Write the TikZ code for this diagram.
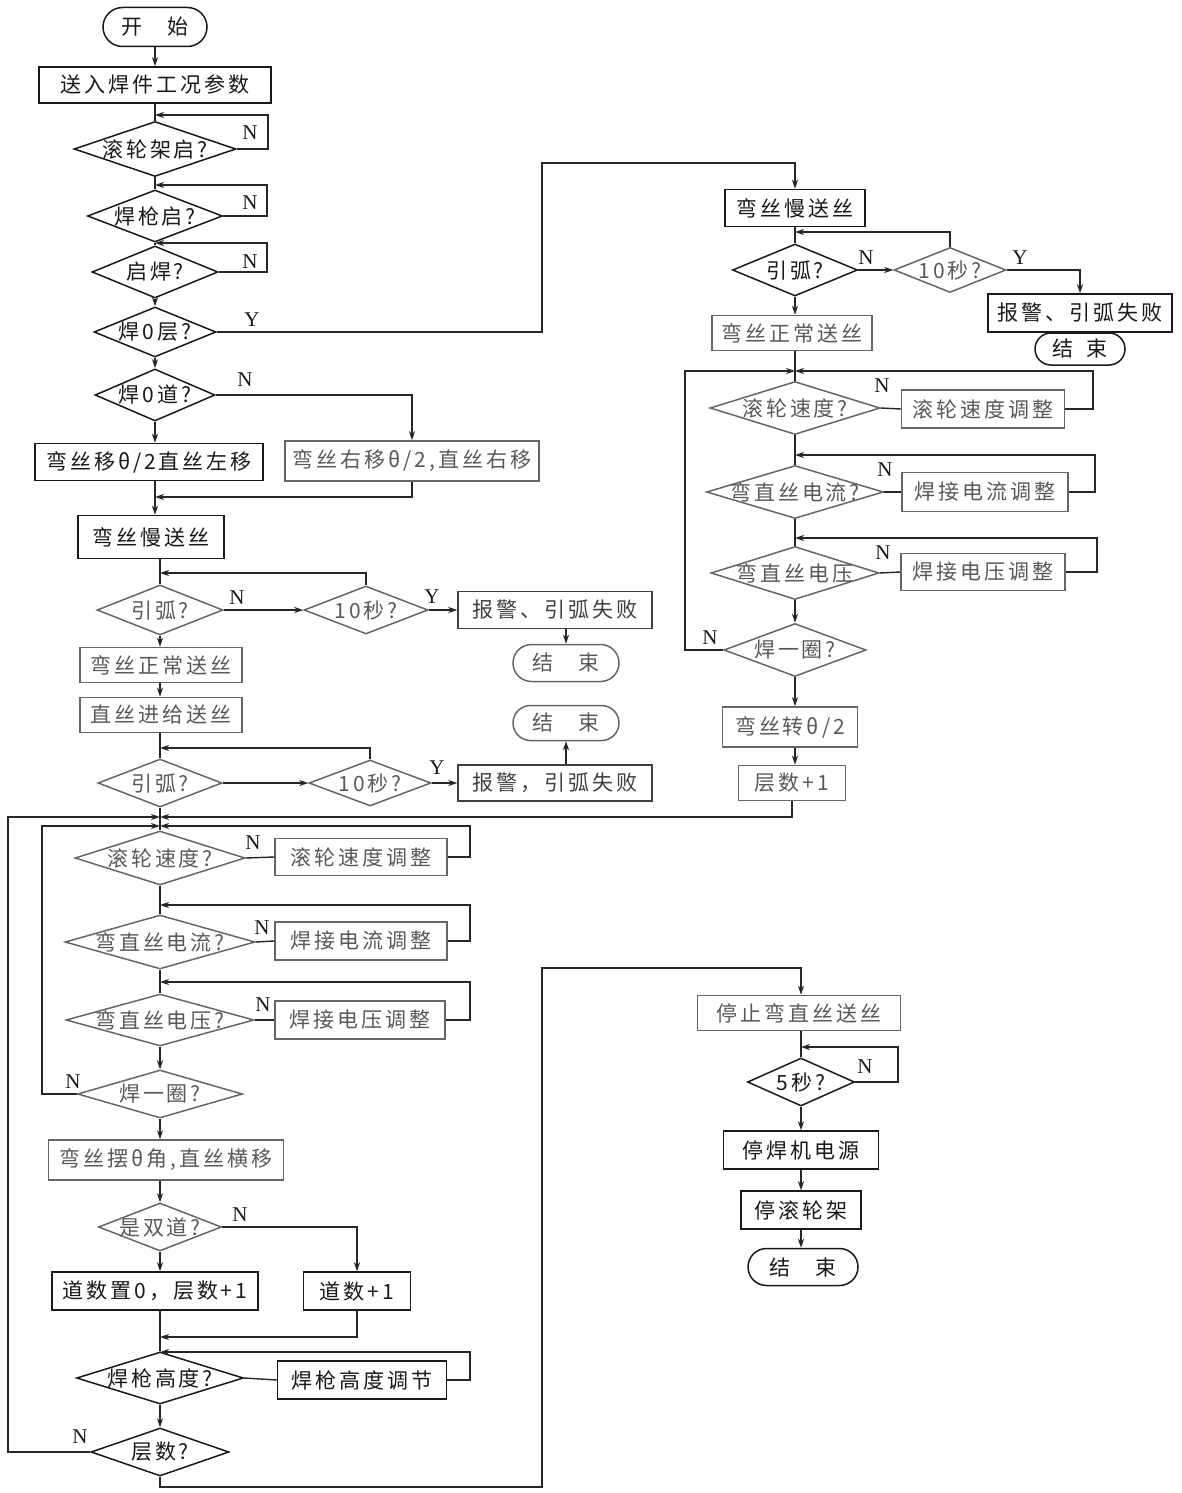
\documentclass[tikz,border=0pt]{standalone}
\usepackage{fontspec}
\newfontfamily\cjk[LetterSpace=14]{Noto Sans CJK SC}
\newfontfamily\lat{Liberation Serif}
\usetikzlibrary{shapes.geometric,shapes.misc,arrows.meta}
\newcommand\mb[1]{\makebox[0pt]{#1}}
\begin{document}
\begin{tikzpicture}[x=1pt,y=-1pt,
  base/.style={draw=black!90, line width=1.5pt, font=\cjk\fontsize{21}{25}\selectfont, text=black!90, inner sep=0pt},
  box/.style={base, rectangle},
  dia/.style={base, diamond, aspect=1},
  term/.style={base, rounded rectangle},
  mid/.style={draw=black!60, text=black!65},
  con/.style={line width=1.4pt, draw=black!85},
  arr/.style={con, -{Stealth[length=9pt,width=6pt]}},
  lab/.style={font=\lat\fontsize{21}{21}\selectfont, inner sep=0pt, text=black!90}
]
\useasboundingbox (0,0) rectangle (1182,1493);
\fill[white] (0,0) rectangle (1182,1493);

% ---------- left column, top ----------
\node[term, minimum width=104, minimum height=39] (n1) at (155,27) {开\hspace{1.2em}始};
\node[box, minimum width=232, minimum height=36] (n2) at (155,85) {送入焊件工况参数};
\node[dia, minimum width=162, minimum height=55] (d1) at (155,149) {\mb{滚轮架启?}};
\node[dia, minimum width=135, minimum height=52] (d2) at (155,216) {\mb{焊枪启?}};
\node[dia, minimum width=126, minimum height=52] (d3) at (155,272) {\mb{启焊?}};
\node[dia, minimum width=122, minimum height=50] (d4) at (155,332) {\mb{焊0层?}};
\node[dia, minimum width=120, minimum height=52] (d5) at (155,395) {\mb{焊0道?}};
\node[box, minimum width=228, minimum height=37] (bl) at (149,462) {弯丝移θ/2直丝左移};
\node[box, mid, minimum width=254, minimum height=40] (br) at (412,461) {弯丝右移θ/2,直丝右移};
\node[box, minimum width=146, minimum height=43] (bs) at (151,537) {弯丝慢送丝};

% ---------- left column, arc start ----------
\node[dia, mid, minimum width=126, minimum height=50] (d6) at (160,610) {\mb{引弧?}};
\node[dia, mid, minimum width=124, minimum height=48] (d7) at (366,610) {\mb{10秒?}};
\node[box, minimum width=194, minimum height=37, draw=black!75, text=black!75] (ba1) at (555,610) {报警、引弧失败};
\node[term, mid, minimum width=106, minimum height=37] (te1) at (566,663) {结\hspace{1.2em}束};
\node[box, mid, minimum width=162, minimum height=35] (bn1) at (161,665) {弯丝正常送丝};
\node[box, mid, minimum width=162, minimum height=35] (bf) at (161,715) {直丝进给送丝};
\node[dia, mid, minimum width=124, minimum height=48] (d8) at (160,783) {\mb{引弧?}};
\node[dia, mid, minimum width=122, minimum height=46] (d9) at (370,783) {\mb{10秒?}};
\node[box, minimum width=194, minimum height=36, draw=black!75, text=black!75] (ba2) at (555,783) {报警，引弧失败};
\node[term, mid, minimum width=106, minimum height=35] (te2) at (566,723) {结\hspace{1.2em}束};

% ---------- left column, welding loop ----------
\node[dia, mid, minimum width=170, minimum height=54] (d10) at (160,858) {\mb{滚轮速度?}};
\node[box, mid, minimum width=172, minimum height=37] (b10) at (361,857) {滚轮速度调整};
\node[dia, mid, minimum width=190, minimum height=54] (d11) at (160,942) {\mb{弯直丝电流?}};
\node[box, mid, minimum width=172, minimum height=38] (b11) at (361,941) {焊接电流调整};
\node[dia, mid, minimum width=188, minimum height=52] (d12) at (160,1020) {\mb{弯直丝电压?}};
\node[box, mid, minimum width=170, minimum height=38] (b12) at (360,1020) {焊接电压调整};
\node[dia, mid, minimum width=165, minimum height=48] (d13) at (160,1094) {\mb{焊一圈?}};
\node[box, mid, minimum width=235, minimum height=40] (b13) at (166,1160) {弯丝摆θ角,直丝横移};
\node[dia, mid, minimum width=123, minimum height=48] (d14) at (160,1227) {\mb{是双道?}};
\node[box, minimum width=206, minimum height=38] (bd0) at (155,1291) {道数置0，层数+1};
\node[box, minimum width=107, minimum height=38] (bd1) at (357,1291) {道数+1};
\node[dia, minimum width=167, minimum height=52] (d15) at (160,1378) {\mb{焊枪高度?}};
\node[box, minimum width=169, minimum height=38] (b15) at (362,1380) {焊枪高度调节};
\node[dia, minimum width=138, minimum height=48] (d16) at (160,1452) {\mb{层数?}};

% ---------- right column, top ----------
\node[box, minimum width=140, minimum height=37] (rbs) at (795,208) {弯丝慢送丝};
\node[dia, minimum width=125, minimum height=52] (rd1) at (795,270) {\mb{引弧?}};
\node[dia, mid, minimum width=112, minimum height=45] (rd2) at (950,270) {\mb{10秒?}};
\node[box, minimum width=184, minimum height=38] (rba) at (1080,313) {报警、引弧失败};
\node[term, minimum width=90, minimum height=32] (rte) at (1080,349) {结\hspace{0.6em}束};
\node[box, mid, minimum width=160, minimum height=35] (rbn) at (792,333) {弯丝正常送丝};
\node[dia, mid, minimum width=170, minimum height=53] (rd3) at (795,408) {\mb{滚轮速度?}};
\node[box, mid, minimum width=163, minimum height=38] (rb3) at (983,409) {滚轮速度调整};
\node[dia, mid, minimum width=177, minimum height=53] (rd4) at (795,492) {\mb{弯直丝电流?}};
\node[box, mid, minimum width=166, minimum height=39] (rb4) at (985,492) {焊接电流调整};
\node[dia, mid, minimum width=168, minimum height=53] (rd5) at (795,573) {\mb{弯直丝电压}};
\node[box, mid, minimum width=164, minimum height=37] (rb5) at (983,572) {焊接电压调整};
\node[dia, mid, minimum width=142, minimum height=53] (rd6) at (795,650) {\mb{焊一圈?}};
\node[box, mid, minimum width=135, minimum height=40] (rb6) at (790,727) {弯丝转θ/2};
\node[box, mid, minimum width=107, minimum height=35] (rb7) at (792,783) {层数+1};

% ---------- right column, bottom ----------
\node[box, mid, minimum width=203, minimum height=35] (bst) at (799,1013) {停止弯直丝送丝};
\node[dia, minimum width=107, minimum height=48] (rd8) at (801,1082) {\mb{5秒?}};
\node[box, minimum width=155, minimum height=38] (bpw) at (801,1150) {停焊机电源};
\node[box, minimum width=120, minimum height=38] (brl) at (801,1210) {停滚轮架};
\node[term, minimum width=110, minimum height=37] (te3) at (803,1267) {结\hspace{1.2em}束};

% ---------- connectors: left top ----------
\draw[arr] (n1.south) -- (n2.north);
\draw[con] (n2.south) -- (d1.north);
\draw[arr] (d1.east) -| (268,115) -- (155,115);
\draw[con] (d1.south) -- (d2.north);
\draw[arr] (d2.east) -| (267,185) -- (155,185);
\draw[con] (d2.south) -- (d3.north);
\draw[arr] (d3.east) -| (267,243) -- (155,243);
\draw[arr] (d3.south) -- (d4.north);
\draw[arr] (d4.east) -- (542,332) |- (795,163) -- (rbs.north);
\draw[arr] (d4.south) -- (d5.north);
\draw[arr] (d5.east) -| (br.north);
\draw[arr] (d5.south) -- (d5.south |- bl.north);
\draw[arr] (br.south) |- (155,497);
\draw[arr] (d5.south |- bl.south) -- (d5.south |- bs.north);

% ---------- connectors: arc start ----------
\draw[con] (d6.north |- bs.south) -- (d6.north);
\draw[arr] (d6.east) -- (d7.west);
\draw[arr] (d7.north) |- (160,573);
\draw[arr] (d7.east) -- (ba1.west);
\draw[arr] (te1.north |- ba1.south) -- (te1.north);
\draw[arr] (d6.south) -- (d6.south |- bn1.north);
\draw[arr] (d6.south |- bn1.south) -- (d6.south |- bf.north);
\draw[con] (d6.south |- bf.south) -- (d8.north);
\draw[arr] (d8.east) -- (d9.west);
\draw[arr] (d9.north) |- (160,748);
\draw[arr] (d9.east) -- (ba2.west);
\draw[arr] (te2.south |- ba2.north) -- (te2.south);
\draw[con] (d8.south) -- (d10.north);

% ---------- connectors: welding loop ----------
\draw[arr] (rb7.south) |- (160,817);
\draw[arr] (d16.west) -| (8,817) -- (160,817);
\draw[arr] (b10.east) -| (470,826) -- (160,826);
\draw[arr] (d13.west) -| (42,826) -- (160,826);
\draw[con] (d10.east) -- (b10.west);
\draw[con] (d10.south) -- (d11.north);
\draw[arr] (b11.east) -| (470,905) -- (160,905);
\draw[con] (d11.east) -- (b11.west);
\draw[con] (d11.south) -- (d12.north);
\draw[arr] (b12.east) -| (470,982) -- (160,982);
\draw[con] (d12.east) -- (b12.west);
\draw[arr] (d12.south) -- (d13.north);
\draw[arr] (d13.south) -- (d13.south |- b13.north);
\draw[arr] (d13.south |- b13.south) -- (d14.north);
\draw[arr] (d14.east) -| (bd1.north);
\draw[arr] (d14.south) -- (d14.south |- bd0.north);
\draw[arr] (bd1.south) |- (160,1337);
\draw[con] (d14.south |- bd0.south) -- (d15.north);
\draw[arr] (b15.east) -| (470,1352) -- (160,1352);
\draw[con] (d15.east) -- (b15.west);
\draw[arr] (d15.south) -- (d16.north);
\draw[arr] (d16.south) -- (160,1487) -| (542,968) -| (rd8.north |- bst.north);

% ---------- connectors: right column ----------
\draw[con] (rbs.south) -- (rd1.north);
\draw[arr] (rd1.east) -- (rd2.west);
\draw[arr] (rd2.north) |- (795,232);
\draw[arr] (rd2.east) -| (rba.north);
\draw[arr] (rd1.south) -- (rd1.south |- rbn.north);
\draw[con] (rd1.south |- rbn.south) -- (rd3.north);
\draw[arr] (rb3.east) -| (1093,371) -- (795,371);
\draw[arr] (rd6.west) -| (685,371) -- (795,371);
\draw[con] (rd3.east) -- (rb3.west);
\draw[con] (rd3.south) -- (rd4.north);
\draw[arr] (rb4.east) -| (1095,455) -- (795,455);
\draw[con] (rd4.east) -- (rb4.west);
\draw[con] (rd4.south) -- (rd5.north);
\draw[arr] (rb5.east) -| (1097,538) -- (795,538);
\draw[con] (rd5.east) -- (rb5.west);
\draw[arr] (rd5.south) -- (rd6.north);
\draw[arr] (rd6.south) -- (rd6.south |- rb6.north);
\draw[arr] (rd6.south |- rb6.south) -- (rd6.south |- rb7.north);

\draw[con] (rd8.north |- bst.south) -- (rd8.north);
\draw[arr] (rd8.east) -| (898,1047) -- (801,1047);
\draw[arr] (rd8.south) -- (bpw.north);
\draw[arr] (bpw.south) -- (brl.north);
\draw[arr] (brl.south) -- (te3.north -| brl.south);

% ---------- Y / N labels ----------
\node[lab] (l1) at (250,133) {N};
\node[lab] (l2) at (250,203) {N};
\node[lab] (l3) at (250,262) {N};
\node[lab] (l4) at (252,320) {Y};
\node[lab] (l5) at (245,380) {N};
\node[lab] (l6) at (237,598) {N};
\node[lab] (l7) at (432,597) {Y};
\node[lab] (l8) at (437,768) {Y};
\node[lab] (l9) at (253,843) {N};
\node[lab] (l10) at (262,928) {N};
\node[lab] (l11) at (263,1005) {N};
\node[lab] (l12) at (73,1082) {N};
\node[lab] (l13) at (240,1215) {N};
\node[lab] (l14) at (80,1437) {N};
\node[lab] (r1) at (866,258) {N};
\node[lab] (r2) at (1020,258) {Y};
\node[lab] (r3) at (882,386) {N};
\node[lab] (r4) at (885,470) {N};
\node[lab] (r5) at (883,553) {N};
\node[lab] (r6) at (710,638) {N};
\node[lab] (r7) at (865,1067) {N};
\end{tikzpicture}
\end{document}
